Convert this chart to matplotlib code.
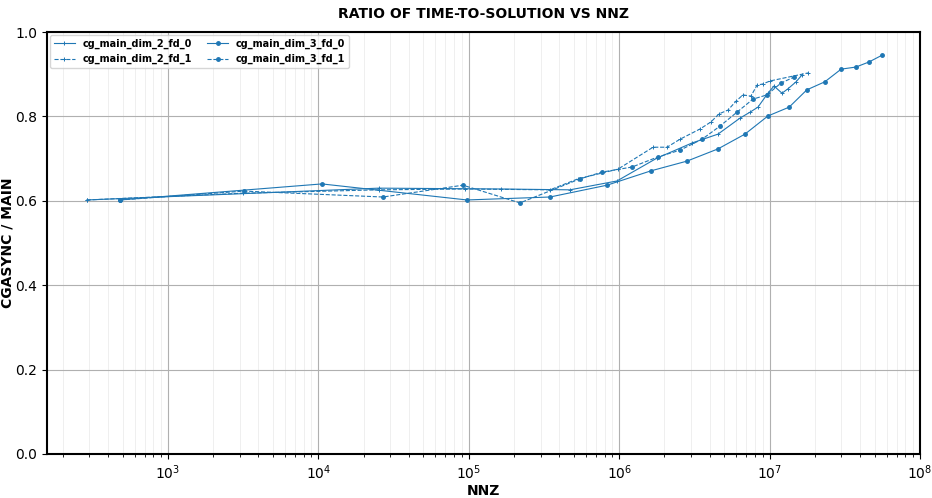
import matplotlib
matplotlib.use("Agg")
import matplotlib.pyplot as plt

# ---- data ----
d2f0_x = [289, 2.53e4, 1.637e5, 4.71e5, 9.67e5, 1.78e6, 3.05e6, 4.54e6, 6.36e6,
          7.41e6, 8.37e6, 9.75e6, 1.07e7, 1.21e7, 1.32e7, 1.50e7, 1.64e7]
d2f0_y = [0.602, 0.630, 0.628, 0.626, 0.647, 0.701, 0.737, 0.758, 0.796,
          0.810, 0.822, 0.855, 0.872, 0.855, 0.865, 0.882, 0.898]

d2f1_x = [289, 3.15e3, 2.53e4, 9.43e4, 3.47e5, 5.32e5, 9.82e5, 1.68e6, 2.08e6,
          2.54e6, 3.44e6, 4.08e6, 4.61e6, 5.29e6, 5.98e6, 6.65e6, 7.52e6,
          8.25e6, 9.04e6, 1.007e7, 1.80e7]
d2f1_y = [0.602, 0.618, 0.626, 0.628, 0.626, 0.652, 0.675, 0.727, 0.727,
          0.746, 0.770, 0.787, 0.806, 0.815, 0.836, 0.851, 0.848,
          0.874, 0.877, 0.884, 0.903]

d3f0_x = [480, 1.057e4, 9.73e4, 3.47e5, 8.30e5, 1.627e6, 2.82e6, 4.54e6, 6.86e6,
          9.75e6, 1.35e7, 1.77e7, 2.33e7, 2.99e7, 3.75e7, 4.58e7, 5.59e7]
d3f0_y = [0.602, 0.640, 0.602, 0.609, 0.637, 0.671, 0.694, 0.723, 0.758,
          0.801, 0.822, 0.863, 0.882, 0.912, 0.917, 0.929, 0.945]

d3f1_x = [480, 3.20e3, 2.69e4, 9.15e4, 2.19e5, 5.49e5, 7.69e5, 1.217e6, 1.81e6,
          2.54e6, 3.56e6, 4.68e6, 6.07e6, 7.76e6, 9.61e6, 1.19e7, 1.45e7]
d3f1_y = [0.602, 0.623, 0.609, 0.637, 0.595, 0.652, 0.668, 0.680, 0.704,
          0.720, 0.746, 0.777, 0.810, 0.841, 0.851, 0.879, 0.893]

color = "#1f77b4"

fig = plt.figure(figsize=(9.32, 4.98), dpi=100)
ax = fig.add_axes([0.0504, 0.0884, 0.9367, 0.8473])

ax.plot(d2f0_x, d2f0_y, color=color, ls='-', lw=0.8, marker='+', ms=2.5, mew=0.7,
        label='cg_main_dim_2_fd_0')
ax.plot(d2f1_x, d2f1_y, color=color, ls='--', lw=0.8, marker='+', ms=2.5, mew=0.7,
        label='cg_main_dim_2_fd_1')
ax.plot(d3f0_x, d3f0_y, color=color, ls='-', lw=0.8, marker='.', ms=5,
        label='cg_main_dim_3_fd_0')
ax.plot(d3f1_x, d3f1_y, color=color, ls='--', lw=0.8, marker='.', ms=5,
        label='cg_main_dim_3_fd_1')

ax.set_xscale('log')
ax.set_xlim(157, 1e8)
ax.set_ylim(0.0, 1.0)
ax.set_yticks([0.0, 0.2, 0.4, 0.6, 0.8, 1.0])
ax.grid(True, which='major', color='#b0b0b0', lw=0.8)
ax.grid(True, which='minor', axis='x', color='#ececec', lw=0.6)
ax.set_axisbelow(True)
for s in ax.spines.values():
    s.set_linewidth(1.5)
    s.set_color('black')
ax.tick_params(labelsize=10)

ax.set_title('RATIO OF TIME-TO-SOLUTION VS NNZ', fontsize=10, fontweight='bold', pad=10)
ax.set_xlabel('NNZ', fontsize=10, fontweight='bold')
ax.xaxis.set_label_coords(0.5, -0.071)
ax.set_ylabel('CGASYNC / MAIN', fontsize=10, fontweight='bold')
ax.yaxis.set_label_coords(-0.037, 0.5)

leg = ax.legend(loc='upper left', ncol=2, prop={'size': 7, 'weight': 'bold'},
                borderaxespad=0.3, handlelength=2.2, columnspacing=1.5)

fig.savefig('out.png', dpi=100)
